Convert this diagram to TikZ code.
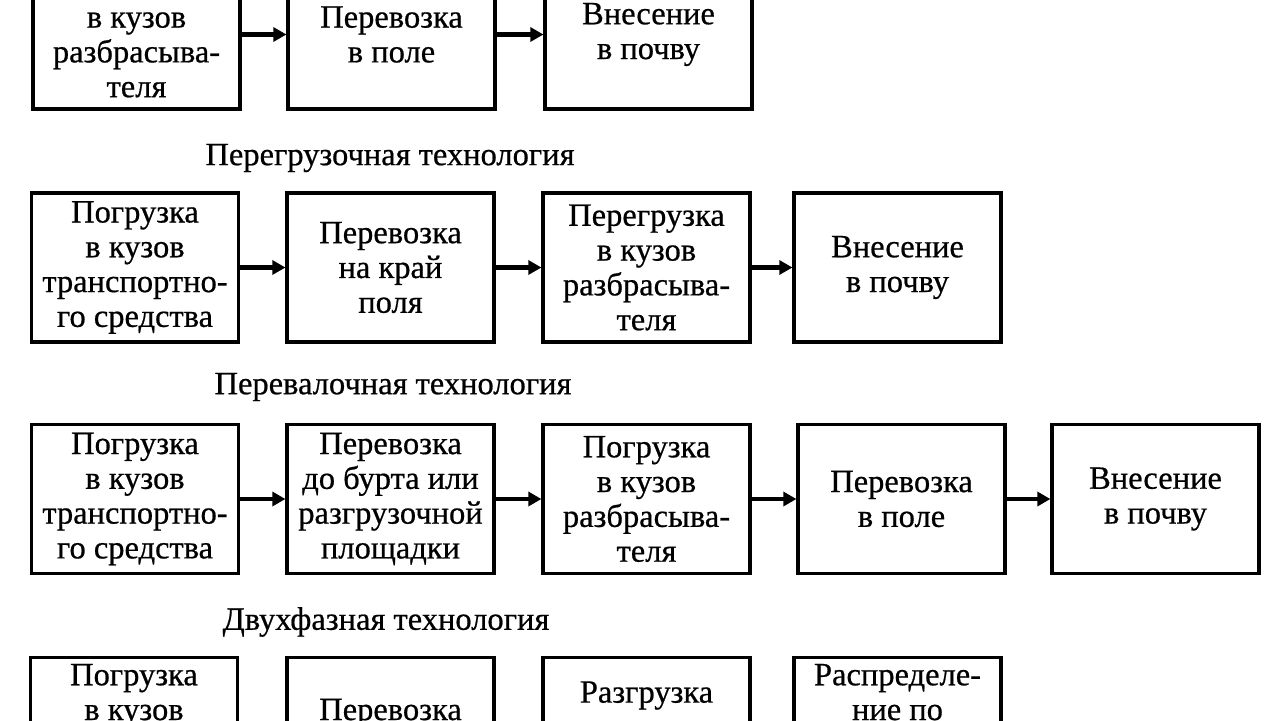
\documentclass[tikz,border=0pt]{standalone}
\usepackage{fontspec}
\setmainfont[FakeBold=0.6]{Liberation Serif}
\usetikzlibrary{arrows.meta}

\begin{document}
\begin{tikzpicture}[x=0.02cm, y=-0.02cm,
    stage/.style={draw, line width=1.8pt, minimum width=4.14cm, minimum height=2.98cm, inner sep=0pt, align=center, font=\fontsize{18.5pt}{19.8pt}\selectfont},
    techname/.style={font=\fontsize{18.5pt}{19.8pt}\selectfont},
    flow/.style={line width=2.5pt, -{Triangle[length=7.5pt, width=8pt]}}]
    \useasboundingbox (0,0) rectangle (1280,720);
    \clip (0,0) rectangle (1280,720);
    % top row (cut by the page edge)
    \node[stage] (a1) at (136.5,34.5) {Погрузка\\в кузов\\разбрасыва-\\теля};
    \node[stage] (a2) at (391.5,34.5) {Перевозка\\в поле};
    \node[stage] (a3) at (648.5,34.5) {Внесение\\в почву};
    \draw[flow] (a1) -- (a2);
    \draw[flow] (a2) -- (a3);
    % перегрузочная
    \node[techname] (t2) at (390,158) {Перегрузочная технология};
    \node[stage] (b1) at (135,267.5) {Погрузка\\в кузов\\транспортно-\\го средства};
    \node[stage] (b2) at (390.5,267.5) {Перевозка\\на край\\поля};
    \node[stage] (b3) at (646.5,267.5) {Перегрузка\\в кузов\\разбрасыва-\\теля};
    \node[stage] (b4) at (897.5,267.5) {Внесение\\в почву};
    \draw[flow] (b1) -- (b2);
    \draw[flow] (b2) -- (b3);
    \draw[flow] (b3) -- (b4);
    % перевалочная
    \node[techname] (t3) at (393,387) {Перевалочная технология};
    \node[stage] (c1) at (135,499) {Погрузка\\в кузов\\транспортно-\\го средства};
    \node[stage] (c2) at (390.5,499) {Перевозка\\до бурта или\\разгрузочной\\площадки};
    \node[stage] (c3) at (646.5,499) {Погрузка\\в кузов\\разбрасыва-\\теля};
    \node[stage] (c4) at (901.5,499) {Перевозка\\в поле};
    \node[stage] (c5) at (1155.5,499) {Внесение\\в почву};
    \draw[flow] (c1) -- (c2);
    \draw[flow] (c2) -- (c3);
    \draw[flow] (c3) -- (c4);
    \draw[flow] (c4) -- (c5);
    % двухфазная (cut by the page edge)
    \node[techname] (t4) at (386,622) {Двухфазная технология};
    \node[stage] (d1) at (134,732) {Погрузка\\в кузов\\\strut\\\strut};
    \node[stage] (d2) at (390.5,732) {Перевозка\\\strut};
    \node[stage] (d3) at (646.5,732) {Разгрузка\\\strut\\\strut};
    \node[stage] (d4) at (897.5,732) {Распределе-\\ние по\\\strut\\\strut};
\end{tikzpicture}
\end{document}
